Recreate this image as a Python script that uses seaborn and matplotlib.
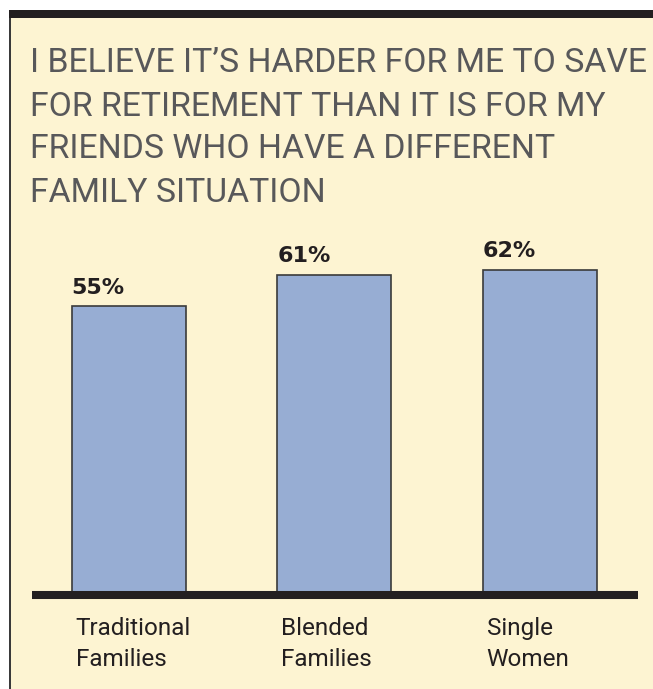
import matplotlib.pyplot as plt
import matplotlib.transforms as mtransforms
import pandas as pd
import seaborn as sns
from matplotlib.patches import Rectangle

title_lines = [
    "I BELIEVE IT\u2019S HARDER FOR ME TO SAVE",
    "FOR RETIREMENT THAN IT IS FOR MY",
    "FRIENDS WHO HAVE A DIFFERENT",
    "FAMILY SITUATION",
]
groups = ["Traditional\nFamilies", "Blended\nFamilies", "Single\nWomen"]
shares = [55, 61, 62]

W, H = 653, 689
BG = "#fdf4d2"
BAR = "#97add3"

sns.set_style("white")
plt.rcParams["font.family"] = ["Roboto", "DejaVu Sans"]

fig = plt.figure(figsize=(W / 100, H / 100), dpi=100)
fig.patch.set_facecolor("white")


def px(x, y):
    # image pixel (from top-left) -> figure fraction
    return x / W, 1 - y / H


# cream panel, left rule and black top band (behind the axes)
fig.patches.append(Rectangle(px(10, H), 1, (H - 10) / H, transform=fig.transFigure,
                             facecolor=BG, edgecolor="none", zorder=-3))
fig.patches.append(Rectangle(px(9, H), 1.6 / W, (H - 10) / H, transform=fig.transFigure,
                             facecolor="#3a3a3a", edgecolor="none", zorder=-2))
fig.patches.append(Rectangle(px(9, 18), 1, 8 / H, transform=fig.transFigure,
                             facecolor="#231f20", edgecolor="none", zorder=-2))

for i, line in enumerate(title_lines):
    x, y = px(30, 72.5 + 43 * i)
    fig.text(x, y, line, fontsize=24.3, color="#58585a", fontweight="normal",
             va="baseline", ha="left")

left, bottom = px(32, 595)
ax = fig.add_axes([left, bottom, (638 - 32) / W, (595 - 227.5) / H])
ax.set_facecolor("none")

df = pd.DataFrame({"group": groups, "share": shares})
bw = 0.555
sns.barplot(data=df, x="group", y="share", color=BAR, width=bw, saturation=1,
            edgecolor="#3a3a3a", linewidth=1.2, ax=ax)

ax.set_xlim(-0.47, 2.478)
ax.set_ylim(0, 70)
ax.set_xlabel("")
ax.set_ylabel("")
ax.set_yticks([])
for s in ["top", "left", "right"]:
    ax.spines[s].set_visible(False)
ax.spines["bottom"].set_color("#231f20")
ax.spines["bottom"].set_linewidth(5.8)
ax.spines["bottom"].set_capstyle("butt")
ax.spines["bottom"].set_zorder(5)

ax.tick_params(axis="x", length=0, pad=16)
shift = mtransforms.ScaledTranslation(-0.53, 0, fig.dpi_scale_trans)
for lab in ax.get_xticklabels():
    lab.set_ha("left")
    lab.set_va("top")
    lab.set_fontsize(17.5)
    lab.set_linespacing(1.42)
    lab.set_color("#231f20")
    lab.set_transform(lab.get_transform() + shift)

for i, v in enumerate(shares):
    ax.annotate(f"{v}%", (i - bw / 2, v), xytext=(0, 6), textcoords="offset points",
                ha="left", va="bottom", fontsize=16, fontweight="bold", color="#231f20",
                family="DejaVu Sans")

fig.savefig("out.png", dpi=100, facecolor=fig.get_facecolor())
